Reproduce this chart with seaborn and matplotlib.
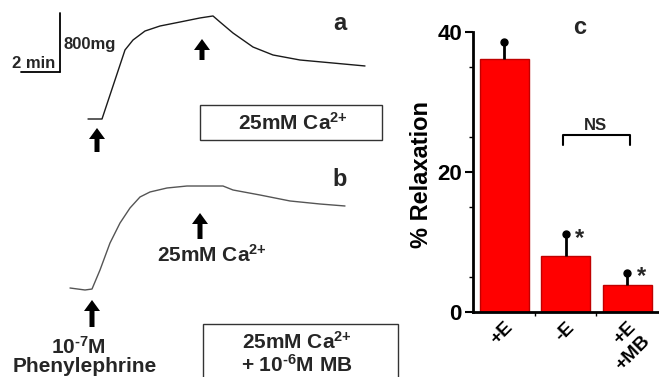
import matplotlib

matplotlib.use("Agg")

import matplotlib.pyplot as plt
import numpy as np
import seaborn as sns
from matplotlib.patches import FancyArrow, Rectangle

# trace a: phenylephrine contraction, then 25mM Ca2+ (time in min, tension in mg above baseline)
trace_a_min = [4.40, 5.10, 6.25, 6.65, 7.25, 8.00, 9.00, 10.00, 10.65,
               11.00, 11.65, 12.65, 13.65, 15.00, 16.65, 18.25]
trace_a_mg = [0, 0, 936, 1071, 1193, 1261, 1315, 1370, 1397,
              1315, 1166, 976, 868, 800, 759, 719]

# trace b: same protocol with 10^-6 M methylene blue
trace_b_min = [3.50, 4.25, 4.60, 5.00, 5.50, 6.00, 6.50, 7.00, 7.50,
               8.35, 9.35, 11.15, 11.65, 13.00, 14.50, 16.00, 17.25]
trace_b_mg = [0, -27, -14, 244, 610, 881, 1085, 1234, 1302,
              1356, 1383, 1383, 1329, 1261, 1180, 1139, 1112]

# panel c: % relaxation to 25mM Ca2+
conditions = ["+E", "-E", "+E\n+MB"]
relaxation = [36.2, 8.0, 3.9]
relaxation_sem = [2.4, 3.1, 1.7]
significant = [False, True, True]

yticks = [0, 20, 40]
yticks_minor = [5, 15, 25, 35]

W, H = 659, 377  # output size in px (dpi 100)
PX_PER_MIN = 20.0  # 2 min scale bar = 40 px
MG_PER_PX = 800 / 59  # 800 mg scale bar = 59 px

CA = r"25mM Ca$^{\text{2+}}$"


def fx(x):
    return x / W


def fy(y):
    return 1 - y / H


def up_arrow(fig, x, y_tip, y_tail):
    fig.add_artist(
        FancyArrow(
            fx(x), fy(y_tail), 0, fy(y_tip) - fy(y_tail),
            width=5 / W, head_width=16 / W, head_length=11 / H,
            length_includes_head=True, color="black", lw=0,
            transform=fig.transFigure,
        )
    )


def trace_axes(fig, top, bottom, baseline):
    # axes covering pixel rows top..bottom of the left 400 px, in min / mg units
    ax = fig.add_axes([0, fy(bottom), fx(400), (bottom - top) / H])
    ax.set_xlim(0, 400 / PX_PER_MIN)
    ax.set_ylim((baseline - bottom) * MG_PER_PX, (baseline - top) * MG_PER_PX)
    ax.axis("off")
    return ax


def main():
    sns.set_theme(style="ticks")
    plt.rcParams["font.family"] = ["Liberation Sans", "DejaVu Sans"]
    plt.rcParams["font.weight"] = "bold"
    plt.rcParams["mathtext.fontset"] = "custom"
    plt.rcParams["mathtext.rm"] = "Liberation Sans:bold"
    plt.rcParams["mathtext.bf"] = "Liberation Sans:bold"
    plt.rcParams["mathtext.default"] = "bf"

    fig = plt.figure(figsize=(W / 100, H / 100), dpi=100)

    # --- trace a ---
    ax_a = trace_axes(fig, 0, 180, 119)
    sns.lineplot(x=trace_a_min, y=trace_a_mg, ax=ax_a, color="#1a1a1a",
                 lw=1.0, sort=False, estimator=None)
    # scale bar: 2 min x 800 mg
    ax_a.plot([1.05, 3.0], [637, 637], color="black", lw=1.3)
    ax_a.plot([3.0, 3.0], [637, 1437], color="black", lw=1.3)

    # --- trace b ---
    ax_b = trace_axes(fig, 180, 377, 288)
    sns.lineplot(x=trace_b_min, y=trace_b_mg, ax=ax_b, color="#555555",
                 lw=1.0, sort=False, estimator=None)

    fig.text(fx(34), fy(63), "2 min", ha="center", va="center", fontsize=12)
    fig.text(fx(63), fy(45), "800mg", ha="left", va="center", fontsize=12)

    up_arrow(fig, 97, 128, 152)
    up_arrow(fig, 202, 39, 60)
    up_arrow(fig, 200, 213, 239)
    up_arrow(fig, 92, 300, 327)

    fig.add_artist(Rectangle((fx(200), fy(140)), fx(382) - fx(200), fy(105) - fy(140),
                             fill=False, ec="#333333", lw=1, transform=fig.transFigure))
    fig.add_artist(Rectangle((fx(203), fy(382)), fx(398) - fx(203), fy(324) - fy(382),
                             fill=False, ec="#333333", lw=1, transform=fig.transFigure))

    fig.text(fx(293), fy(123), CA, ha="center", va="center", fontsize=15)
    fig.text(fx(212), fy(255), CA, ha="center", va="center", fontsize=15)
    fig.text(fx(78), fy(347), r"10$^{\text{-7}}$M", ha="center", va="center", fontsize=15)
    fig.text(fx(85), fy(367), "Phenylephrine", ha="center", va="center", fontsize=15)
    fig.text(fx(297), fy(342), CA, ha="center", va="center", fontsize=15)
    fig.text(fx(297), fy(365), r"+ 10$^{\text{-6}}$M MB", ha="center", va="center", fontsize=15)

    fig.text(fx(340), fy(24), "a", ha="center", va="center", fontsize=17)
    fig.text(fx(340), fy(180), "b", ha="center", va="center", fontsize=17)
    fig.text(fx(580), fy(28), "c", ha="center", va="center", fontsize=17)

    # --- panel c: bar chart ---
    ax_c = fig.add_axes([fx(473), fy(312), fx(659) - fx(473), fy(32) - fy(312)])
    sns.barplot(x=conditions, y=relaxation, ax=ax_c, color="#ff0000", saturation=1,
                edgecolor="#c00000", linewidth=1, width=0.8, errorbar=None, zorder=2)
    xs = np.arange(len(conditions))
    tops = np.add(relaxation, relaxation_sem)
    ax_c.errorbar(xs, relaxation, yerr=[np.zeros(len(xs)), relaxation_sem], fmt="none",
                  ecolor="black", elinewidth=2, capsize=0, zorder=3)
    ax_c.plot(xs, tops, "o", color="black", ms=5, zorder=4, clip_on=False)
    for i in xs:
        if significant[i]:
            ax_c.text(i + 0.23, tops[i] - 0.6, "*", ha="center", va="center", fontsize=17)

    # NS bracket between -E and +E+MB
    ax_c.plot([0.95, 0.95, 2.04, 2.04], [23.9, 25.3, 25.3, 23.9], color="black", lw=1.5)
    ax_c.text(1.49, 26.7, "NS", ha="center", va="center", fontsize=12)

    ax_c.set_xlim(-0.51, 2.52)
    ax_c.set_ylim(0, 40)
    ax_c.set_yticks(yticks)
    ax_c.set_yticks(yticks_minor, minor=True)
    ax_c.set_xticks([0.5, 1.5], minor=True)
    ax_c.set_yticklabels([str(t) for t in yticks], fontsize=16, fontweight="bold")
    ax_c.set_xticklabels(conditions, fontsize=14, fontweight="bold", rotation=45,
                         ha="right", va="top", rotation_mode="anchor")
    ax_c.tick_params(axis="y", which="major", length=6, width=1.5, pad=2, colors="black")
    ax_c.tick_params(axis="y", which="minor", length=3, width=1, colors="black")
    ax_c.tick_params(axis="x", which="major", length=0, pad=5, colors="black")
    ax_c.tick_params(axis="x", which="minor", length=3, width=1, colors="black")
    ax_c.set_xlabel("")
    ax_c.set_ylabel("% Relaxation", fontsize=17, fontweight="bold", color="black")
    ax_c.yaxis.set_label_coords(-0.215, 0.49)
    for side in ["top", "right"]:
        ax_c.spines[side].set_visible(False)
    for side in ["left", "bottom"]:
        ax_c.spines[side].set_color("black")
        ax_c.spines[side].set_linewidth(2)

    fig.savefig("out.png", dpi=100)
    plt.close(fig)


if __name__ == "__main__":
    main()
